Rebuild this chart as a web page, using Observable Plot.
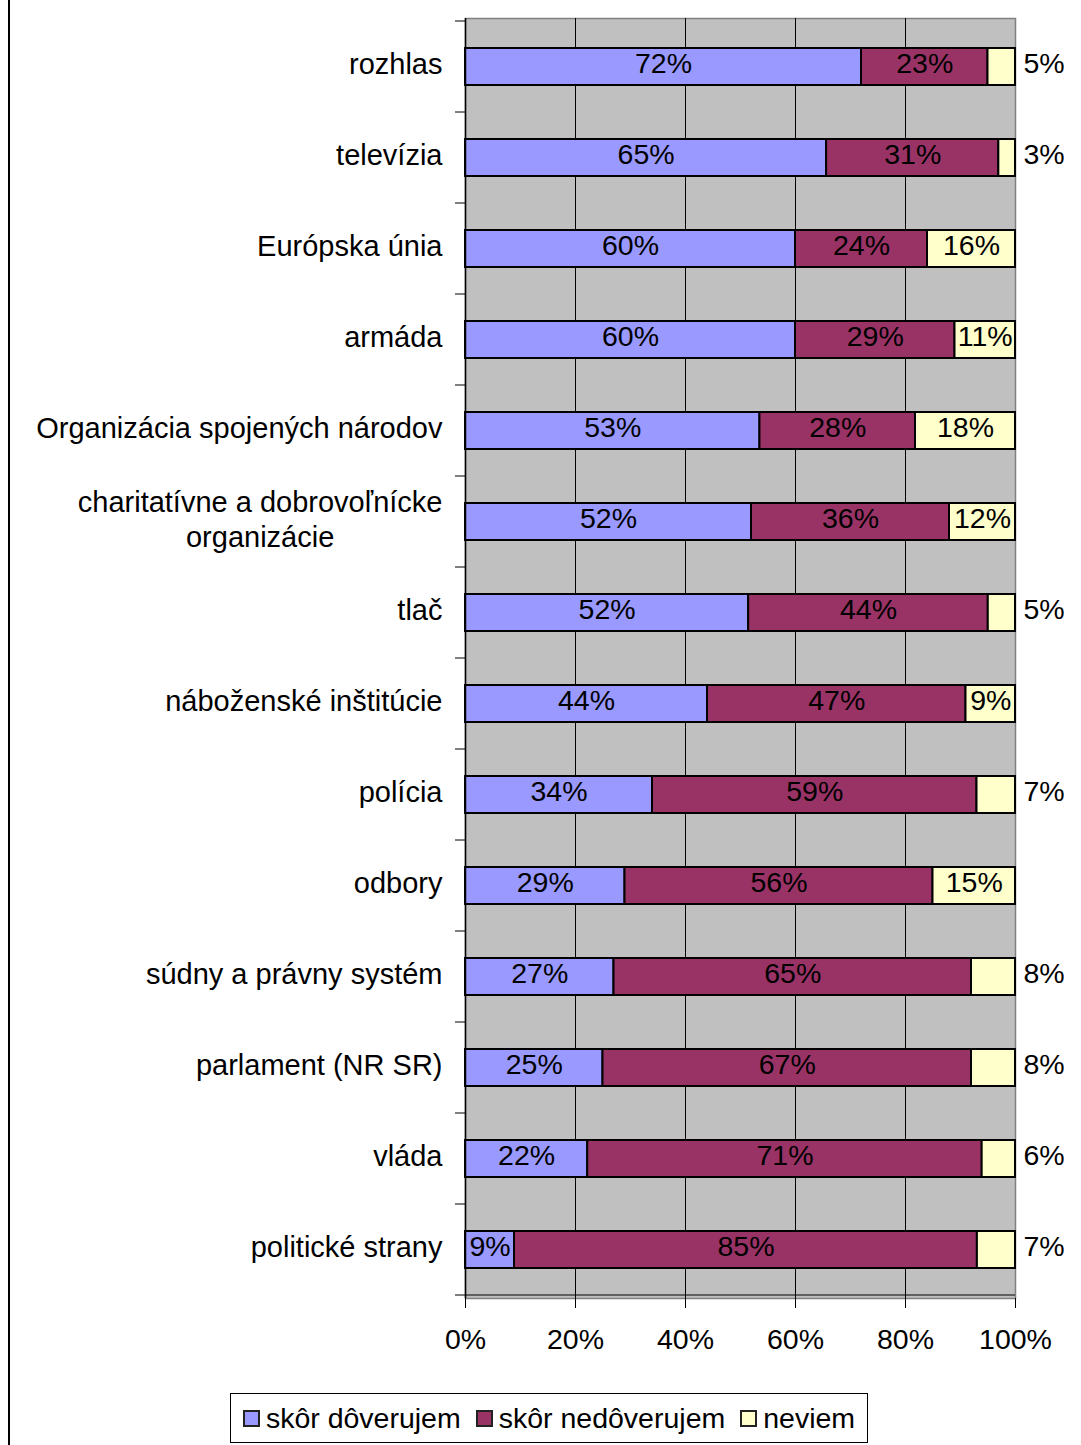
<!DOCTYPE html>
<html>
<head>
<meta charset="utf-8">
<script src="https://cdn.jsdelivr.net/npm/d3@7"></script>
<script src="https://cdn.jsdelivr.net/npm/@observablehq/plot@0.6"></script>
<style>
  html, body { margin: 0; padding: 0; background: #fff; }
  body { width: 1081px; height: 1445px; position: relative; overflow: hidden; font-family: "Liberation Sans", Arial, sans-serif; }
  #border { position: absolute; left: 8px; top: 0; width: 2px; height: 1445px; background: #000; }
  #chart { position: absolute; left: 0; top: 0; }
  #legend { position: absolute; left: 230px; top: 1393px; width: 636px; height: 48px; border: 1px solid #000;
            display: flex; align-items: center; justify-content: center; gap: 15px; font-size: 28.5px; color: #000; }
  .item { display: flex; align-items: center; gap: 6px; }
  .sw { width: 13px; height: 13px; border: 2px solid #222; }
</style>
</head>
<body>
<div id="border"></div>
<div id="chart"></div>
<div id="legend"></div>
<script>
const categories = ["rozhlas","televízia","Európska únia","armáda","Organizácia spojených národov",
  "charitatívne a dobrovoľnícke\norganizácie","tlač","náboženské inštitúcie","polícia","odbory",
  "súdny a právny systém","parlament (NR SR)","vláda","politické strany"];
const trust    = [72,65,60,60,53,52,52,44,34,29,27,25,22,9];
const distrust = [23,31,24,29,28,36,44,47,59,56,65,67,71,85];
const dontKnow = [5,3,16,11,18,12,5,9,7,15,8,8,6,7];
const series = ["skôr dôverujem","skôr nedôverujem","neviem"];
const colors = ["#9999FF","#993366","#FFFFCC"];
const xTicks = [0,0.2,0.4,0.6,0.8,1];

const values = [trust, distrust, dontKnow];
const data = [];
categories.forEach((c, i) => series.forEach((s, j) => data.push({category: c, series: s, value: values[j][i]})));

const isOutside = d => d.series === "neviem" && d.value < 9;

function categoryTicks(index, scales) {
  const {x, y} = scales;
  const step = y(categories[1]) - y(categories[0]);
  const bounds = categories.map(c => y(c)).concat([y(categories[categories.length-1]) + step]);
  const g = d3.create("svg:g").attr("stroke", "#000").attr("stroke-width", 1);
  const x0 = x(0);
  for (const b of bounds) g.append("line").attr("x1", x0 - 10).attr("x2", x0).attr("y1", b).attr("y2", b);
  g.append("line").attr("x1", x0).attr("x2", x(1)).attr("y1", bounds[bounds.length-1]).attr("y2", bounds[bounds.length-1]);
  return g.node();
}

const stackOpts = {x: "value", y: "category", z: "series", offset: "normalize", order: null};
const FS = 28.5;

const chart = Plot.plot({
  width: 1081,
  height: 1380,
  marginLeft: 465,
  marginRight: 66,
  marginTop: 18,
  marginBottom: 82,
  style: {fontFamily: "'Liberation Sans', Arial, sans-serif", fontSize: FS + "px", background: "none", color: "#000"},
  x: {domain: [0, 1], ticks: xTicks, tickFormat: d3.format(".0%")},
  y: {domain: categories, padding: 0},
  color: {domain: series, range: colors},
  marks: [
    Plot.frame({fill: "#C0C0C0", stroke: "#808080", strokeWidth: 1.5}),
    Plot.gridX(xTicks.slice(1, -1), {stroke: "#000", strokeOpacity: 1, strokeWidth: 1}),
    Plot.barX(data, Plot.stackX({...stackOpts, fill: "series", stroke: "#000", strokeWidth: 2, insetTop: 27, insetBottom: 27})),
    Plot.ruleX([0], {stroke: "#000", strokeWidth: 1.5}),
    categoryTicks,
    Plot.text(data, Plot.stackX({...stackOpts, text: d => isOutside(d) ? null : d.value + "%", fill: "#000", fontSize: FS, dy: -3})),
    Plot.text(data, Plot.stackX2({...stackOpts, text: d => isOutside(d) ? d.value + "%" : null, fill: "#000", fontSize: FS, textAnchor: "start", dx: 8, dy: -3})),
    Plot.axisX({ticks: xTicks, tickFormat: d3.format(".0%"), tickSize: 10, tickPadding: 20, fontSize: FS, label: null}),
    Plot.axisY({tickSize: 0, tickPadding: 23, fontSize: 29, label: null, lineHeight: 1.22, dy: -4})
  ]
});
document.getElementById("chart").appendChild(chart);

// center multi-line category labels like the original
chart.querySelectorAll("text").forEach(t => {
  const spans = t.querySelectorAll("tspan");
  if (spans.length > 1) {
    let w = 0;
    spans.forEach(s => { w = Math.max(w, s.getComputedTextLength()); });
    t.setAttribute("text-anchor", "middle");
    const tr = t.getAttribute("transform") || "";
    t.setAttribute("transform", tr + ` translate(${-w/2},0)`);
  }
});

const legend = document.getElementById("legend");
series.forEach((s, i) => {
  const item = document.createElement("div");
  item.className = "item";
  const sw = document.createElement("div");
  sw.className = "sw";
  sw.style.background = colors[i];
  const lab = document.createElement("span");
  lab.textContent = s;
  item.appendChild(sw); item.appendChild(lab);
  legend.appendChild(item);
});
</script>
</body>
</html>
